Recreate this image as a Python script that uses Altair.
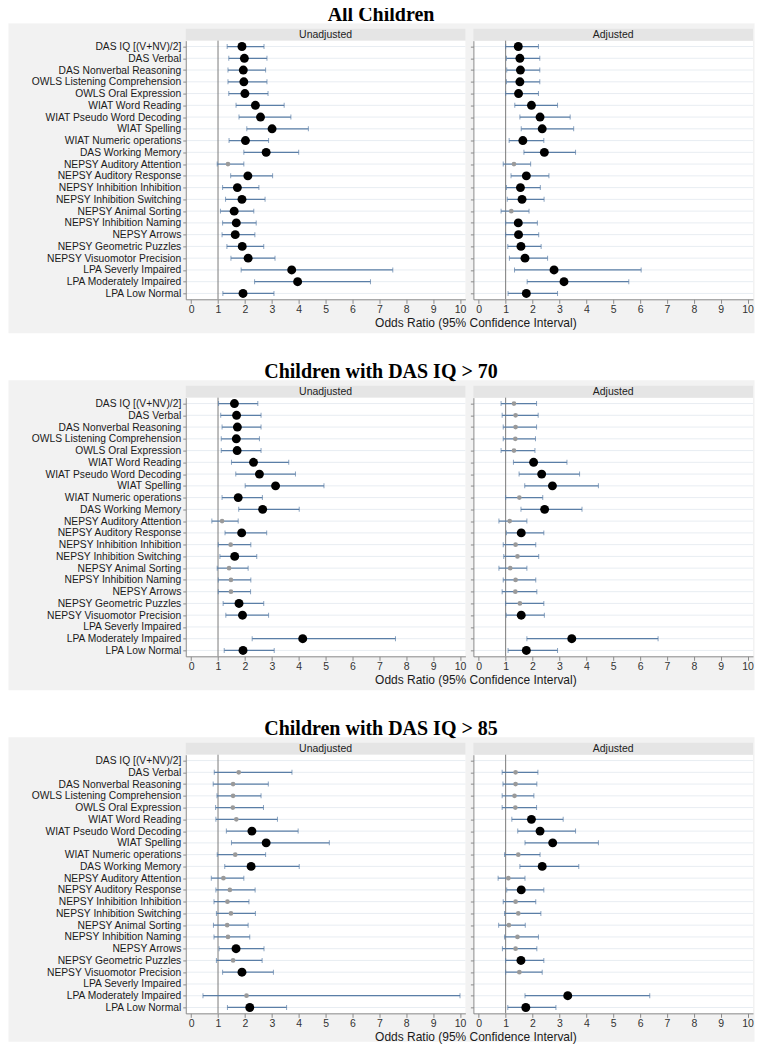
import altair as alt
import pandas as pd

MEASURES = [
    "DAS IQ [(V+NV)/2]", "DAS Verbal", "DAS Nonverbal Reasoning",
    "OWLS Listening Comprehension", "OWLS Oral Expression", "WIAT Word Reading",
    "WIAT Pseudo Word Decoding", "WIAT Spelling", "WIAT Numeric operations",
    "DAS Working Memory", "NEPSY Auditory Attention", "NEPSY Auditory Response",
    "NEPSY Inhibition Inhibition", "NEPSY Inhibition Switching", "NEPSY Animal Sorting",
    "NEPSY Inhibition Naming", "NEPSY Arrows", "NEPSY Geometric Puzzles",
    "NEPSY Visuomotor Precision", "LPA Severly Impaired", "LPA Moderately Impaired",
    "LPA Low Normal",
]
SECTION_TITLES = ["All Children", "Children with DAS IQ > 70", "Children with DAS IQ > 85"]
PANEL_NAMES = ["Unadjusted", "Adjusted"]
X_TICKS = [0, 1, 2, 3, 4, 5, 6, 7, 8, 9, 10]
REF_LINE = [1]
AXIS_TITLE = "Odds Ratio (95% Confidence Interval)"

# ---- All Children ----
ALL_UNADJ_OR = [1.89, 1.98, 1.94, 1.96, 2.00, 2.39, 2.58, 3.01, 2.02, 2.79, 1.37, 2.11, 1.72, 1.89, 1.60, 1.68, 1.64, 1.90, 2.12, 3.74, 3.96, 1.93]
ALL_UNADJ_LO = [1.34, 1.40, 1.37, 1.37, 1.40, 1.67, 1.78, 2.07, 1.41, 1.96, 0.97, 1.47, 1.17, 1.28, 1.09, 1.17, 1.15, 1.33, 1.48, 1.86, 2.36, 1.18]
ALL_UNADJ_HI = [2.71, 2.82, 2.77, 2.82, 2.86, 3.46, 3.71, 4.36, 2.88, 4.00, 1.96, 3.03, 2.52, 2.75, 2.33, 2.42, 2.37, 2.70, 3.12, 7.50, 6.67, 3.08]
ALL_UNADJ_SIG = [1, 1, 1, 1, 1, 1, 1, 1, 1, 1, 0, 1, 1, 1, 1, 1, 1, 1, 1, 1, 1, 1]

ALL_ADJ_OR = [1.47, 1.53, 1.55, 1.53, 1.48, 1.96, 2.28, 2.36, 1.64, 2.44, 1.31, 1.77, 1.55, 1.61, 1.21, 1.47, 1.48, 1.57, 1.72, 2.80, 3.17, 1.77]
ALL_ADJ_LO = [1.00, 1.03, 1.04, 1.03, 1.00, 1.34, 1.53, 1.58, 1.13, 1.68, 0.91, 1.20, 1.03, 1.06, 0.83, 1.00, 1.00, 1.08, 1.14, 1.33, 1.80, 1.09]
ALL_ADJ_HI = [2.22, 2.27, 2.27, 2.27, 2.22, 2.93, 3.40, 3.53, 2.42, 3.60, 1.93, 2.61, 2.29, 2.43, 1.87, 2.18, 2.23, 2.32, 2.56, 6.04, 5.58, 2.93]
ALL_ADJ_SIG = [1, 1, 1, 1, 1, 1, 1, 1, 1, 1, 0, 1, 1, 1, 0, 1, 1, 1, 1, 1, 1, 1]

# ---- DAS IQ > 70 ----
IQ70_UNADJ_OR = [1.61, 1.69, 1.72, 1.68, 1.71, 2.32, 2.54, 3.14, 1.75, 2.66, 1.15, 1.88, 1.47, 1.62, 1.41, 1.48, 1.48, 1.78, 1.91, None, 4.15, 1.93]
IQ70_UNADJ_LO = [1.02, 1.10, 1.15, 1.12, 1.12, 1.50, 1.66, 2.01, 1.15, 1.77, 0.77, 1.26, 1.01, 1.07, 0.97, 1.01, 1.01, 1.19, 1.29, None, 2.27, 1.23]
IQ70_UNADJ_HI = [2.48, 2.60, 2.60, 2.54, 2.60, 3.63, 3.88, 4.94, 2.65, 4.02, 1.75, 2.81, 2.22, 2.44, 2.12, 2.22, 2.21, 2.70, 2.88, None, 7.60, 3.09]
IQ70_UNADJ_SIG = [1, 1, 1, 1, 1, 1, 1, 1, 1, 1, 0, 1, 0, 1, 0, 0, 0, 1, 1, 0, 1, 1]

IQ70_ADJ_OR = [1.31, 1.37, 1.37, 1.36, 1.31, 2.04, 2.34, 2.74, 1.51, 2.45, 1.15, 1.58, 1.37, 1.44, 1.17, 1.37, 1.36, 1.53, 1.58, None, 3.46, 1.77]
IQ70_ADJ_LO = [0.83, 0.87, 0.91, 0.91, 0.83, 1.29, 1.50, 1.71, 1.00, 1.57, 0.75, 1.03, 0.91, 0.93, 0.75, 0.91, 0.87, 1.00, 1.02, None, 1.79, 1.09]
IQ70_ADJ_HI = [2.15, 2.21, 2.15, 2.11, 2.09, 3.28, 3.75, 4.45, 2.38, 3.84, 1.79, 2.42, 2.12, 2.23, 1.79, 2.12, 2.16, 2.42, 2.44, None, 6.67, 2.93]
IQ70_ADJ_SIG = [0, 0, 0, 0, 0, 1, 1, 1, 0, 1, 0, 1, 0, 0, 0, 0, 0, 0, 1, 0, 1, 1]

# ---- DAS IQ > 85 ----
IQ85_UNADJ_OR = [None, 1.77, 1.56, 1.56, 1.55, 1.68, 2.26, 2.79, 1.64, 2.23, 1.20, 1.44, 1.35, 1.48, 1.34, 1.37, 1.67, 1.56, 1.89, None, 2.06, 2.18]
IQ85_UNADJ_LO = [None, 0.86, 0.82, 0.96, 0.91, 0.92, 1.31, 1.50, 0.97, 1.25, 0.75, 0.92, 0.85, 0.94, 0.83, 0.85, 1.04, 0.94, 1.17, None, 0.44, 1.35]
IQ85_UNADJ_HI = [None, 3.75, 2.87, 2.60, 2.69, 3.21, 3.98, 5.14, 2.77, 4.02, 1.96, 2.38, 2.15, 2.39, 2.12, 2.18, 2.71, 2.64, 3.06, None, 10.0, 3.55]
IQ85_UNADJ_SIG = [0, 0, 0, 0, 0, 0, 1, 1, 0, 1, 0, 0, 0, 0, 0, 0, 1, 0, 1, 0, 0, 1]

IQ85_ADJ_OR = [None, 1.37, 1.37, 1.33, 1.36, 1.96, 2.28, 2.75, 1.47, 2.36, 1.10, 1.58, 1.37, 1.47, 1.12, 1.44, 1.37, 1.57, 1.51, None, 3.31, 1.75]
IQ85_ADJ_LO = [None, 0.87, 0.90, 0.87, 0.87, 1.23, 1.45, 1.72, 0.96, 1.53, 0.72, 1.04, 0.91, 0.96, 0.74, 0.96, 0.88, 1.00, 1.00, None, 1.72, 1.08]
IQ85_ADJ_HI = [None, 2.20, 2.16, 2.05, 2.15, 3.14, 3.60, 4.45, 2.28, 3.72, 1.72, 2.42, 2.12, 2.31, 1.73, 2.22, 2.16, 2.42, 2.36, None, 6.36, 2.87]
IQ85_ADJ_SIG = [0, 0, 0, 0, 0, 1, 1, 1, 0, 1, 0, 1, 0, 0, 0, 0, 0, 1, 0, 0, 1, 1]

SECTIONS = [
    ((ALL_UNADJ_OR, ALL_UNADJ_LO, ALL_UNADJ_HI, ALL_UNADJ_SIG),
     (ALL_ADJ_OR, ALL_ADJ_LO, ALL_ADJ_HI, ALL_ADJ_SIG)),
    ((IQ70_UNADJ_OR, IQ70_UNADJ_LO, IQ70_UNADJ_HI, IQ70_UNADJ_SIG),
     (IQ70_ADJ_OR, IQ70_ADJ_LO, IQ70_ADJ_HI, IQ70_ADJ_SIG)),
    ((IQ85_UNADJ_OR, IQ85_UNADJ_LO, IQ85_UNADJ_HI, IQ85_UNADJ_SIG),
     (IQ85_ADJ_OR, IQ85_ADJ_LO, IQ85_ADJ_HI, IQ85_ADJ_SIG)),
]

# ---- layout / style ----
PANEL_W = 280
PANEL_H = 259
GAP = 8
SEC_SPACING = 357.5
BOX_LEFT = -177.5
BOX_RIGHT = 2 * PANEL_W + GAP + 1.5
SANS = "Liberation Sans"
SERIF = "Liberation Serif"
BOX_GRAY = "#f2f2f2"
HEADER_GRAY = "#e5e5e5"
GRID_COLOR = "#e8edf2"
BAR_COLOR = "#5a7ea6"
REF_COLOR = "#7a7a7a"
AXIS_COLOR = "#8a8a8a"

ONE = pd.DataFrame({"k": [0]})
GRID_DF = pd.DataFrame({"measure": MEASURES})
REF_DF = pd.DataFrame({"ref": REF_LINE})

xscale = alt.Scale(domain=[-0.2, 10.2], nice=False, zero=False)
yscale = alt.Scale(type="point", domain=MEASURES, padding=0.5)


def x_axis():
    return alt.Axis(values=X_TICKS, format="d", labelFont=SANS, labelFontSize=10.5,
                    labelColor="#333333", tickSize=4, tickColor=AXIS_COLOR,
                    domainColor=AXIS_COLOR, labelPadding=1, grid=False, zindex=1,
                    title="")


def y_axis(left):
    return alt.Axis(labels=left, labelFont=SANS, labelFontSize=10.3,
                    labelColor="#1a1a1a", labelLimit=300, labelPadding=2,
                    tickSize=3, tickColor=AXIS_COLOR, domainColor=AXIS_COLOR,
                    grid=False, zindex=1, title="")


def X(field):
    return alt.X(field, type="quantitative", scale=xscale, axis=x_axis(), title="")


def Y(left):
    return alt.Y("measure:N", scale=yscale, axis=y_axis(left), title="")


def panel(values, name, sec, left):
    pt, lo, hi, sig = values
    df = pd.DataFrame({"measure": MEASURES, "or": pt, "lo": lo, "hi": hi, "sig": sig})
    df = df.dropna(subset=["or"])
    layers = []
    if left:
        box_bottom = PANEL_H + (28.5 if sec == 2 else 34)
        layers.append(alt.Chart(ONE).mark_rect(color=BOX_GRAY).encode(
            x=alt.value(BOX_LEFT), x2=alt.value(BOX_RIGHT),
            y=alt.value(-17.5), y2=alt.value(box_bottom)))
        if sec == 0:
            layers.append(alt.Chart(ONE).mark_rect(color="white").encode(
                x=alt.value(BOX_LEFT), x2=alt.value(BOX_RIGHT),
                y=alt.value(-39.5), y2=alt.value(-17.5)))
        layers.append(alt.Chart(ONE).mark_text(
            font=SERIF, fontSize=20, fontWeight="bold", color="black").encode(
            x=alt.value(195.5), y=alt.value(-26), text=alt.value(SECTION_TITLES[sec])))
        layers.append(alt.Chart(ONE).mark_text(
            font=SANS, fontSize=12, color="#1a1a1a").encode(
            x=alt.value(290.5), y=alt.value(PANEL_H + 24), text=alt.value(AXIS_TITLE)))
    layers.append(alt.Chart(ONE).mark_rect(color=HEADER_GRAY).encode(
        x=alt.value(0), x2=alt.value(PANEL_W), y=alt.value(-12), y2=alt.value(0)))
    layers.append(alt.Chart(ONE).mark_text(font=SANS, fontSize=10.5, color="#222222").encode(
        x=alt.value(PANEL_W / 2), y=alt.value(-6), text=alt.value(name)))
    if left:
        layers.append(alt.Chart(ONE).mark_rect(color="white").encode(
            x=alt.value(0), x2=alt.value(PANEL_W), y=alt.value(0), y2=alt.value(PANEL_H)))
    layers.append(alt.Chart(GRID_DF).mark_rule(color=GRID_COLOR, strokeWidth=1).encode(
        y=Y(left), x=alt.value(0), x2=alt.value(PANEL_W)))
    layers.append(alt.Chart(REF_DF).mark_rule(color=REF_COLOR, strokeWidth=1).encode(
        x=X("ref")))
    layers.append(alt.Chart(df).mark_rule(color=BAR_COLOR, strokeWidth=1.2).encode(
        x=X("lo"), x2=alt.X2("hi"), y=Y(left)))
    layers.append(alt.Chart(df).mark_tick(color=BAR_COLOR, size=5, thickness=1).encode(
        x=X("lo"), y=Y(left)))
    layers.append(alt.Chart(df).mark_tick(color=BAR_COLOR, size=5, thickness=1).encode(
        x=X("hi"), y=Y(left)))
    layers.append(alt.Chart(df).mark_circle(opacity=1).encode(
        x=X("or"), y=Y(left),
        color=alt.Color("sig:O", scale=alt.Scale(domain=[0, 1], range=["#9a9a9a", "#000000"]), legend=None),
        size=alt.Size("sig:O", scale=alt.Scale(domain=[0, 1], range=[22, 80]), legend=None)))
    return alt.layer(*layers).properties(width=PANEL_W, height=PANEL_H)


sections = []
for s, (unadj, adj) in enumerate(SECTIONS):
    left = panel(unadj, PANEL_NAMES[0], s, True)
    right = panel(adj, PANEL_NAMES[1], s, False)
    sections.append(alt.hconcat(left, right, spacing=GAP, bounds="flush"))

chart = alt.vconcat(*sections, spacing=SEC_SPACING, bounds="flush").properties(
    padding={"left": 0, "right": 0, "top": -8, "bottom": 0},
    background="white",
).configure_view(strokeWidth=0, fill="white")

chart.save("out.html", embed_options={"renderer": "svg", "actions": False})
